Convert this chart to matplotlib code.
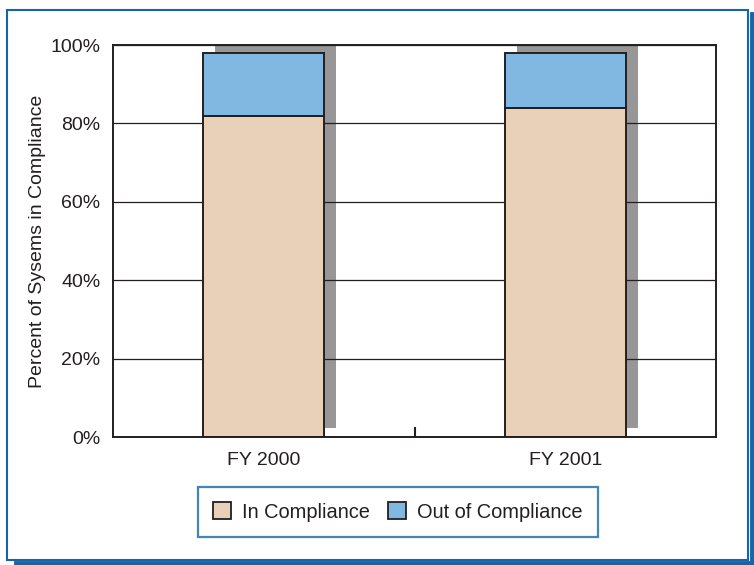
import matplotlib
matplotlib.use("Agg")
import matplotlib.pyplot as plt
from matplotlib.transforms import ScaledTranslation
from matplotlib.patches import Rectangle
from matplotlib.lines import Line2D

plt.rcParams['font.family'] = ['Liberation Sans', 'DejaVu Sans']

categories = ["FY 2000", "FY 2001"]
in_compliance = [82, 84]
out_compliance = [16, 14]
y_ticks = [0, 20, 40, 60, 80, 100]
y_tick_labels = ["0%", "20%", "40%", "60%", "80%", "100%"]

tan = "#e8d0b9"
blue = "#80b8e1"
shadow = "#979797"
edge = "#231f20"
frame_blue = "#1565a8"
fs = 14

fig = plt.figure(figsize=(7.54, 5.65), dpi=100)
ax = fig.add_axes([113/754, 1-437/565, (716-113)/754, (437-45)/565])

x = list(range(len(categories)))
totals = [a + b for a, b in zip(in_compliance, out_compliance)]
width = 0.4

# shadow bars offset to the right and up
off = ax.transData + ScaledTranslation(12/100, 9/100, fig.dpi_scale_trans)
ax.bar(x, totals, width=width, color=shadow, edgecolor='none', transform=off, zorder=1)

ax.bar(x, in_compliance, width=width, color=tan, edgecolor=edge, linewidth=1.4,
       zorder=2, label="In Compliance")
ax.bar(x, out_compliance, width=width, bottom=in_compliance, color=blue, edgecolor=edge,
       linewidth=1.4, zorder=2, label="Out of Compliance")

ax.set_xlim(-0.5, 1.5)
ax.set_ylim(0, 100)
ax.set_yticks(y_ticks)
ax.set_yticklabels(y_tick_labels, fontsize=fs, color="#231f20")
ax.set_xticks(x)
ax.set_xticklabels(categories, fontsize=fs, color="#231f20")
ax.set_xticks([0.5], minor=True)
ax.tick_params(axis='x', which='major', length=0, pad=11)
ax.tick_params(axis='x', which='minor', direction='in', length=7, width=1.5, color=edge)
ax.tick_params(axis='y', length=0, pad=9)

ax.set_axisbelow('line')
ax.yaxis.grid(True, color=edge, linewidth=0.9)

for s in ax.spines.values():
    s.set_color(edge)
    s.set_linewidth(1.4)

ax.set_ylabel("Percent of Sysems in Compliance", fontsize=fs, color="#231f20", labelpad=3)

handles = [Rectangle((0, 0), 1, 1, facecolor=tan, edgecolor=edge, linewidth=1.3),
           Rectangle((0, 0), 1, 1, facecolor=blue, edgecolor=edge, linewidth=1.3)]
leg = fig.legend(handles, ["In Compliance", "Out of Compliance"], ncol=2,
                 loc='center', bbox_to_anchor=(398/754, 1-512/565),
                 fontsize=14.4, fancybox=False, frameon=True,
                 handlelength=0.9, handleheight=0.9, handletextpad=0.55,
                 columnspacing=0.9, borderpad=0.75, borderaxespad=0)
leg.get_frame().set_edgecolor(frame_blue)
leg.get_frame().set_linewidth(1.6)
for t in leg.get_texts():
    t.set_color("#231f20")

# outer frame with shadow
fig.add_artist(Rectangle((7/754, 1-560/565), (748-7)/754, (560-10)/565,
                         transform=fig.transFigure, fill=False,
                         edgecolor=frame_blue, linewidth=1.5))
fig.add_artist(Line2D([16/754, 753/754], [1-563/565, 1-563/565], transform=fig.transFigure,
                      color=frame_blue, linewidth=3.5))
fig.add_artist(Line2D([751.5/754, 751.5/754], [1-563/565, 1-14/565], transform=fig.transFigure,
                      color=frame_blue, linewidth=3.5))

fig.savefig("out.png", dpi=100)
